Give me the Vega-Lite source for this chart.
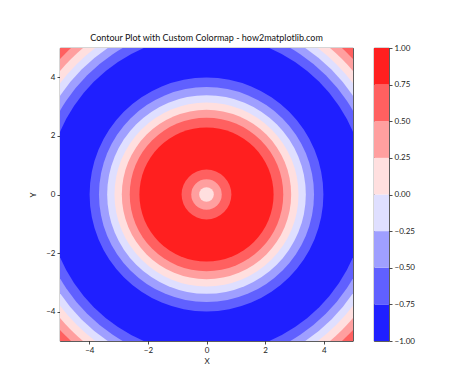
{
  "$schema": "https://vega.github.io/schema/vega-lite/v6.json",
  "background": "white",
  "padding": {"left": 29, "top": 33, "right": 5, "bottom": 5},
  "datasets": {
    "rings": [
      {"radius": 7.3, "mid": 0.625},
      {"radius": 6.81, "mid": 0.375},
      {"radius": 6.54, "mid": 0.125},
      {"radius": 6.28, "mid": -0.125},
      {"radius": 6.03, "mid": -0.375},
      {"radius": 5.76, "mid": -0.625},
      {"radius": 5.44, "mid": -0.875},
      {"radius": 3.99, "mid": -0.625},
      {"radius": 3.67, "mid": -0.375},
      {"radius": 3.39, "mid": -0.125},
      {"radius": 3.14, "mid": 0.125},
      {"radius": 2.89, "mid": 0.375},
      {"radius": 2.62, "mid": 0.625},
      {"radius": 2.29, "mid": 0.875},
      {"radius": 0.85, "mid": 0.625},
      {"radius": 0.52, "mid": 0.375},
      {"radius": 0.25, "mid": 0.125}
    ],
    "bands": [
      {"lo": -1.0, "hi": -0.75, "mid": -0.875},
      {"lo": -0.75, "hi": -0.5, "mid": -0.625},
      {"lo": -0.5, "hi": -0.25, "mid": -0.375},
      {"lo": -0.25, "hi": 0.0, "mid": -0.125},
      {"lo": 0.0, "hi": 0.25, "mid": 0.125},
      {"lo": 0.25, "hi": 0.5, "mid": 0.375},
      {"lo": 0.5, "hi": 0.75, "mid": 0.625},
      {"lo": 0.75, "hi": 1.0, "mid": 0.875}
    ]
  },
  "config": {
    "font": "Lato",
    "view": {"stroke": "#000", "strokeWidth": 0.8},
    "axis": {
      "grid": false,
      "labelFont": "Lato",
      "labelFontSize": 8,
      "labelColor": "#222",
      "titleFont": "Lato",
      "titleFontSize": 8,
      "titleFontWeight": "normal",
      "titleColor": "#222",
      "tickColor": "#000",
      "tickSize": 3,
      "tickWidth": 0.7,
      "domain": false,
      "labelPadding": 2
    },
    "concat": {"spacing": 19}
  },
  "hconcat": [
    {
      "width": 293,
      "height": 293,
      "title": {"text": "Contour Plot with Custom Colormap - how2matplotlib.com", "fontSize": 9, "fontWeight": "normal", "font": "Lato", "color": "#111", "offset": 5},
      "data": {"name": "rings"},
      "mark": {"type": "point", "shape": "circle", "filled": true, "opacity": 1, "strokeWidth": 0, "clip": true},
      "encoding": {
        "x": {"datum": 0, "type": "quantitative", "scale": {"domain": [-5, 5], "nice": false, "zero": false}, "axis": {"values": [-4, -2, 0, 2, 4], "title": "X", "titlePadding": 3}},
        "y": {"datum": 0, "type": "quantitative", "scale": {"domain": [-5, 5], "nice": false, "zero": false}, "axis": {"values": [-4, -2, 0, 2, 4], "title": "Y", "titlePadding": 8}},
        "size": {"field": "radius", "type": "quantitative", "scale": {"type": "pow", "exponent": 2, "domain": [0, 10], "range": [0, 343396]}, "legend": null},
        "color": {"field": "mid", "type": "quantitative", "scale": {"type": "threshold", "domain": [-0.75, -0.5, -0.25, 0, 0.25, 0.5, 0.75], "range": ["#1f1fff", "#6060ff", "#9f9fff", "#dfdfff", "#ffdfdf", "#ff9f9f", "#ff6060", "#ff1f1f"]}, "legend": null},
        "order": {"field": "radius", "sort": "descending"}
      }
    },
    {
      "width": 15,
      "height": 293,
      "data": {"name": "bands"},
      "mark": {"type": "rect"},
      "encoding": {
        "y": {"field": "lo", "type": "quantitative", "scale": {"domain": [-1, 1], "nice": false, "zero": false}, "axis": {"orient": "right", "values": [-1, -0.75, -0.5, -0.25, 0, 0.25, 0.5, 0.75, 1], "format": ".2f", "title": null}},
        "y2": {"field": "hi"},
        "color": {"field": "mid", "type": "quantitative", "scale": {"type": "threshold", "domain": [-0.75, -0.5, -0.25, 0, 0.25, 0.5, 0.75], "range": ["#1f1fff", "#6060ff", "#9f9fff", "#dfdfff", "#ffdfdf", "#ff9f9f", "#ff6060", "#ff1f1f"]}, "legend": null}
      }
    }
  ]
}
